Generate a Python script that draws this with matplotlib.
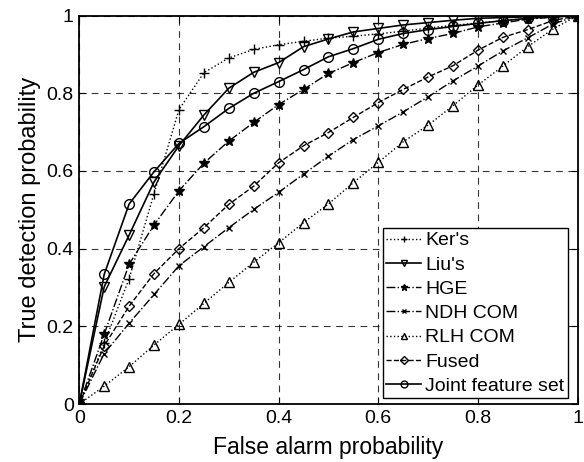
import matplotlib
matplotlib.use("Agg")
import matplotlib.pyplot as plt

plt.rcParams['font.family'] = ['Liberation Sans', 'DejaVu Sans']

far = [0, 0.05, 0.1, 0.15, 0.2, 0.25, 0.3, 0.35, 0.4, 0.45, 0.5,
       0.55, 0.6, 0.65, 0.7, 0.75, 0.8, 0.85, 0.9, 0.95, 1.0]

kers = [0, 0.156, 0.323, 0.542, 0.758, 0.853, 0.891, 0.913, 0.925, 0.934, 0.942,
        0.947, 0.953, 0.960, 0.968, 0.975, 0.981, 0.987, 0.992, 0.996, 1.0]
lius = [0, 0.302, 0.435, 0.572, 0.665, 0.744, 0.813, 0.854, 0.879, 0.920, 0.940,
        0.958, 0.967, 0.976, 0.982, 0.988, 0.993, 0.995, 0.997, 0.998, 1.0]
hge = [0, 0.18, 0.36, 0.461, 0.549, 0.62, 0.677, 0.725, 0.771, 0.81, 0.851,
       0.879, 0.905, 0.926, 0.941, 0.954, 0.971, 0.981, 0.991, 0.996, 1.0]
ndh = [0, 0.13, 0.208, 0.282, 0.356, 0.405, 0.454, 0.501, 0.545, 0.592, 0.638,
       0.681, 0.716, 0.752, 0.791, 0.832, 0.87, 0.909, 0.943, 0.978, 1.0]
rlh = [0, 0.046, 0.096, 0.152, 0.205, 0.259, 0.313, 0.365, 0.415, 0.467, 0.515,
       0.57, 0.622, 0.675, 0.718, 0.768, 0.821, 0.87, 0.92, 0.965, 1.0]
fused = [0, 0.15, 0.252, 0.336, 0.40, 0.454, 0.514, 0.561, 0.621, 0.665, 0.699,
         0.738, 0.776, 0.81, 0.842, 0.871, 0.911, 0.944, 0.964, 0.987, 1.0]
joint = [0, 0.334, 0.515, 0.598, 0.671, 0.714, 0.761, 0.80, 0.830, 0.861, 0.894,
         0.915, 0.939, 0.954, 0.964, 0.972, 0.98, 0.987, 0.993, 0.997, 1.0]

labels = ["Ker's", "Liu's", "HGE", "NDH COM", "RLH COM", "Fused", "Joint feature set"]

fig = plt.figure(figsize=(5.84, 4.62), dpi=100)
ax = fig.add_axes([0.1358, 0.1255, 0.8532, 0.8407])

ms = 7
ax.plot(far, kers, color='k', linestyle=':', marker='+', ms=ms, lw=1, label=labels[0])
ax.plot(far, lius, color='k', linestyle='-', marker='v', ms=ms, mfc='none', lw=1.2, label=labels[1])
ax.plot(far, hge, color='k', linestyle='-.', marker='*', ms=ms, lw=1, label=labels[2])
ax.plot(far, ndh, color='k', linestyle='-.', marker='x', ms=5, lw=1, label=labels[3])
ax.plot(far, rlh, color='k', linestyle=':', marker='^', ms=ms, mfc='none', lw=1, label=labels[4])
ax.plot(far, fused, color='k', linestyle='--', marker='D', ms=5.5, mfc='none', lw=1, label=labels[5])
ax.plot(far, joint, color='k', linestyle='-', marker='o', ms=ms, mfc='none', lw=1.2, label=labels[6])

ax.set_xlim(0, 1)
ax.set_ylim(0, 1)
ticks = [0, 0.2, 0.4, 0.6, 0.8, 1]
ticklabels = ['0', '0.2', '0.4', '0.6', '0.8', '1']
ax.set_xticks(ticks)
ax.set_xticklabels(ticklabels)
ax.set_yticks(ticks)
ax.set_yticklabels(ticklabels)
ax.tick_params(direction='in', length=5, width=0.8, top=True, right=True,
               labelsize=14, pad=4)
ax.grid(True, color='k', linestyle=(0, (6, 5)), linewidth=0.8, alpha=0.8)
for s in ax.spines.values():
    s.set_linewidth(1.3)

ax.set_xlabel('False alarm probability', fontsize=16.5, labelpad=6.5)
ax.set_ylabel('True detection probability', fontsize=17, labelpad=4)

leg = ax.legend(loc='lower left', bbox_to_anchor=(0.609, 0.0147), fontsize=14,
                handlelength=1.8, handletextpad=0.2, labelspacing=0.34,
                borderpad=0.18, borderaxespad=0.0, fancybox=False,
                framealpha=1, edgecolor='k', markerscale=0.7)
leg.get_frame().set_linewidth(1.0)

fig.savefig('out.png', dpi=100)
